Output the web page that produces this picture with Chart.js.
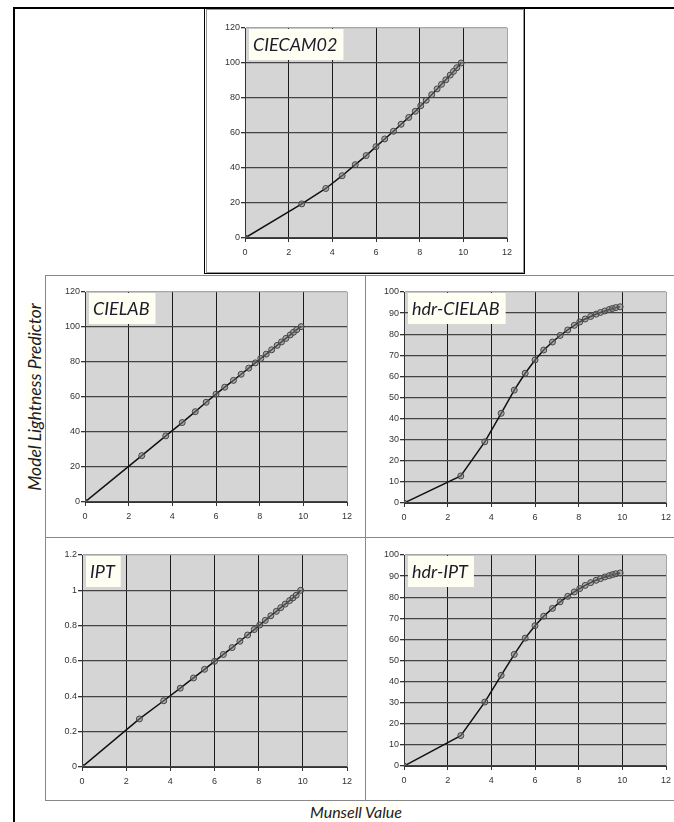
<!DOCTYPE html>
<html>
<head>
<meta charset="utf-8">
<script src="https://cdn.jsdelivr.net/npm/chart.js@4"></script>
<style>
body{margin:0;width:674px;height:822px;overflow:hidden;background:#fff;position:relative}
.ln{position:absolute;background:#000}
.frame{position:absolute;box-sizing:border-box}
.panel{position:absolute}
.title{position:absolute;font-family:Lato,sans-serif;font-style:italic;font-size:16px;color:#1b1b2a;background:#fffff4;white-space:nowrap;line-height:17px}
</style>
</head>
<body>
<!-- outer frame -->
<div class="ln" style="left:13px;top:7px;width:661px;height:2px"></div>
<div class="ln" style="left:13px;top:7px;width:2px;height:815px"></div>
<!-- top box -->
<div class="frame" style="left:204px;top:7px;width:321px;height:267px;border:1.5px solid #000"></div>
<div class="frame" style="left:206px;top:9px;width:318px;height:264px;border:1px solid #999"></div>
<!-- 2x2 boxes -->
<div class="frame" style="left:45px;top:275px;width:321px;height:263px;border:1px solid #888"></div>
<div class="frame" style="left:365px;top:275px;width:330px;height:263px;border:1px solid #888"></div>
<div class="frame" style="left:45px;top:537px;width:321px;height:264px;border:1px solid #888"></div>
<div class="frame" style="left:365px;top:537px;width:330px;height:264px;border:1px solid #888"></div>

<div class="panel" id="p0" style="left:205px;top:8px;width:320px;height:265px"><canvas id="c0"></canvas></div>
<div class="panel" id="p1" style="left:45px;top:275px;width:320px;height:262px"><canvas id="c1"></canvas></div>
<div class="panel" id="p2" style="left:365px;top:275px;width:320px;height:262px"><canvas id="c2"></canvas></div>
<div class="panel" id="p3" style="left:45px;top:537px;width:320px;height:263px"><canvas id="c3"></canvas></div>
<div class="panel" id="p4" style="left:365px;top:537px;width:320px;height:263px"><canvas id="c4"></canvas></div>

<div class="title" style="left:34px;top:397px;font-size:17.5px;transform:translate(-50%,-50%) rotate(-90deg)">Model Lightness Predictor</div>
<div class="title" style="left:310px;top:803px">Munsell Value</div>

<script>
// Munsell value of each sample (x)
const munsell = [0, 2.6, 3.7, 4.45, 5.05, 5.55, 6.0, 6.4, 6.8, 7.15, 7.5, 7.8, 8.05, 8.3, 8.55, 8.8, 9.0, 9.2, 9.4, 9.55, 9.7, 9.9];

// lightness predicted by each model
const ciecam02 = [0, 19.5, 28.3, 35.6, 41.9, 47.1, 52.2, 56.6, 61.0, 65.0, 68.9, 72.4, 75.6, 78.7, 81.9, 85.2, 87.8, 90.4, 93.1, 95.2, 97.3, 100.0];
const cielab = [0, 26.5, 37.8, 45.4, 51.6, 57.0, 61.6, 65.6, 69.5, 73.0, 76.5, 79.5, 82.0, 84.5, 87.0, 89.5, 91.5, 93.5, 95.5, 97.0, 98.5, 100.2];
const hdrCielab = [0, 12.8, 29.0, 42.5, 53.5, 61.5, 67.8, 72.5, 76.3, 79.4, 82.0, 84.2, 85.8, 87.2, 88.4, 89.5, 90.3, 91.0, 91.7, 92.2, 92.6, 93.0];
const ipt = [0, 0.272, 0.375, 0.446, 0.504, 0.553, 0.598, 0.637, 0.676, 0.712, 0.747, 0.778, 0.804, 0.830, 0.856, 0.881, 0.902, 0.922, 0.942, 0.957, 0.972, 1.0];
const hdrIpt = [0, 14.4, 30.3, 43.0, 52.9, 60.6, 66.5, 71.0, 74.7, 77.8, 80.4, 82.5, 84.1, 85.6, 86.9, 88.0, 88.8, 89.6, 90.2, 90.7, 91.1, 91.5];

// tick labels
const xTicks = [0, 2, 4, 6, 8, 10, 12];
const yTicks120 = [0, 20, 40, 60, 80, 100, 120];
const yTicks100 = [0, 10, 20, 30, 40, 50, 60, 70, 80, 90, 100];
const yTicksIpt = [0, 0.2, 0.4, 0.6, 0.8, 1, 1.2];

// plot area offsets inside each panel (left, top, right, bottom)
const panels = [
  {id: 'c0', name: 'CIECAM02', values: ciecam02, ticks: yTicks120, pad: [40, 20, 18, 35]},
  {id: 'c1', name: 'CIELAB', values: cielab, ticks: yTicks120, pad: [40, 17, 18, 35]},
  {id: 'c2', name: 'hdr-CIELAB', values: hdrCielab, ticks: yTicks100, pad: [39, 17, 19, 34]},
  {id: 'c3', name: 'IPT', values: ipt, ticks: yTicksIpt, pad: [37, 18, 18, 33]},
  {id: 'c4', name: 'hdr-IPT', values: hdrIpt, ticks: yTicks100, pad: [39, 18, 19, 34]}
];

const plotBg = {
  id: 'plotBg',
  beforeDraw(chart) {
    const a = chart.chartArea, c = chart.ctx;
    c.save();
    c.fillStyle = '#d5d5d5';
    c.fillRect(a.left, a.top, a.right - a.left, a.bottom - a.top);
    c.restore();
  }
};

const nameBox = {
  id: 'nameBox',
  afterDraw(chart, args, opts) {
    const a = chart.chartArea, c = chart.ctx;
    c.save();
    c.font = 'italic 18px Lato, sans-serif';
    const w = c.measureText(opts.text).width + 10;
    c.fillStyle = '#fefef2';
    c.fillRect(a.left + 4, a.top + 1, w, 31);
    c.fillStyle = '#1b1b2a';
    c.textBaseline = 'middle';
    c.fillText(opts.text, a.left + 8, a.top + 17);
    c.restore();
  }
};

panels.forEach(function (p) {
  const yMax = p.ticks[p.ticks.length - 1];
  const points = munsell.map((x, i) => ({x: x, y: p.values[i]}));
  new Chart(document.getElementById(p.id), {
    type: 'line',
    data: {
      datasets: [{
        data: points,
        borderColor: '#111',
        borderWidth: 1.5,
        tension: 0,
        pointStyle: 'circle',
        pointRadius: 3,
        pointBackgroundColor: 'rgba(130,130,130,0.5)',
        pointBorderColor: '#444',
        pointBorderWidth: 1
      }]
    },
    options: {
      responsive: true,
      maintainAspectRatio: false,
      animation: false,
      layout: {padding: {left: 0, top: p.pad[1], right: p.pad[2], bottom: 0}},
      plugins: {
        legend: {display: false},
        tooltip: {enabled: false},
        nameBox: {text: p.name}
      },
      scales: {
        x: {
          type: 'linear',
          min: 0, max: 12,
          afterBuildTicks: s => { s.ticks = xTicks.map(v => ({value: v})); },
          afterFit: s => { s.height = p.pad[3]; },
          grid: {
            color: ctx => ctx.tick && ctx.tick.value === 12 ? '#a5a5a5' : '#1a1a1a',
            tickColor: '#333',
            tickLength: 4,
            lineWidth: 1
          },
          border: {color: '#333', width: 1},
          ticks: {font: {family: 'Liberation Sans', size: 9}, color: '#333', padding: 5, maxRotation: 0}
        },
        y: {
          min: 0, max: yMax,
          afterBuildTicks: s => { s.ticks = p.ticks.map(v => ({value: v})); },
          afterFit: s => { s.width = p.pad[0]; },
          grid: {
            color: ctx => ctx.tick && ctx.tick.value === yMax ? '#a5a5a5' : '#444',
            tickColor: '#333',
            tickLength: 4,
            lineWidth: 1.3
          },
          border: {color: '#333', width: 1},
          ticks: {
            font: {family: 'Liberation Sans', size: 9}, color: '#333', padding: 1,
            callback: v => String(+v.toFixed(1))
          }
        }
      }
    },
    plugins: [plotBg, nameBox]
  });
});
</script>
</body>
</html>
